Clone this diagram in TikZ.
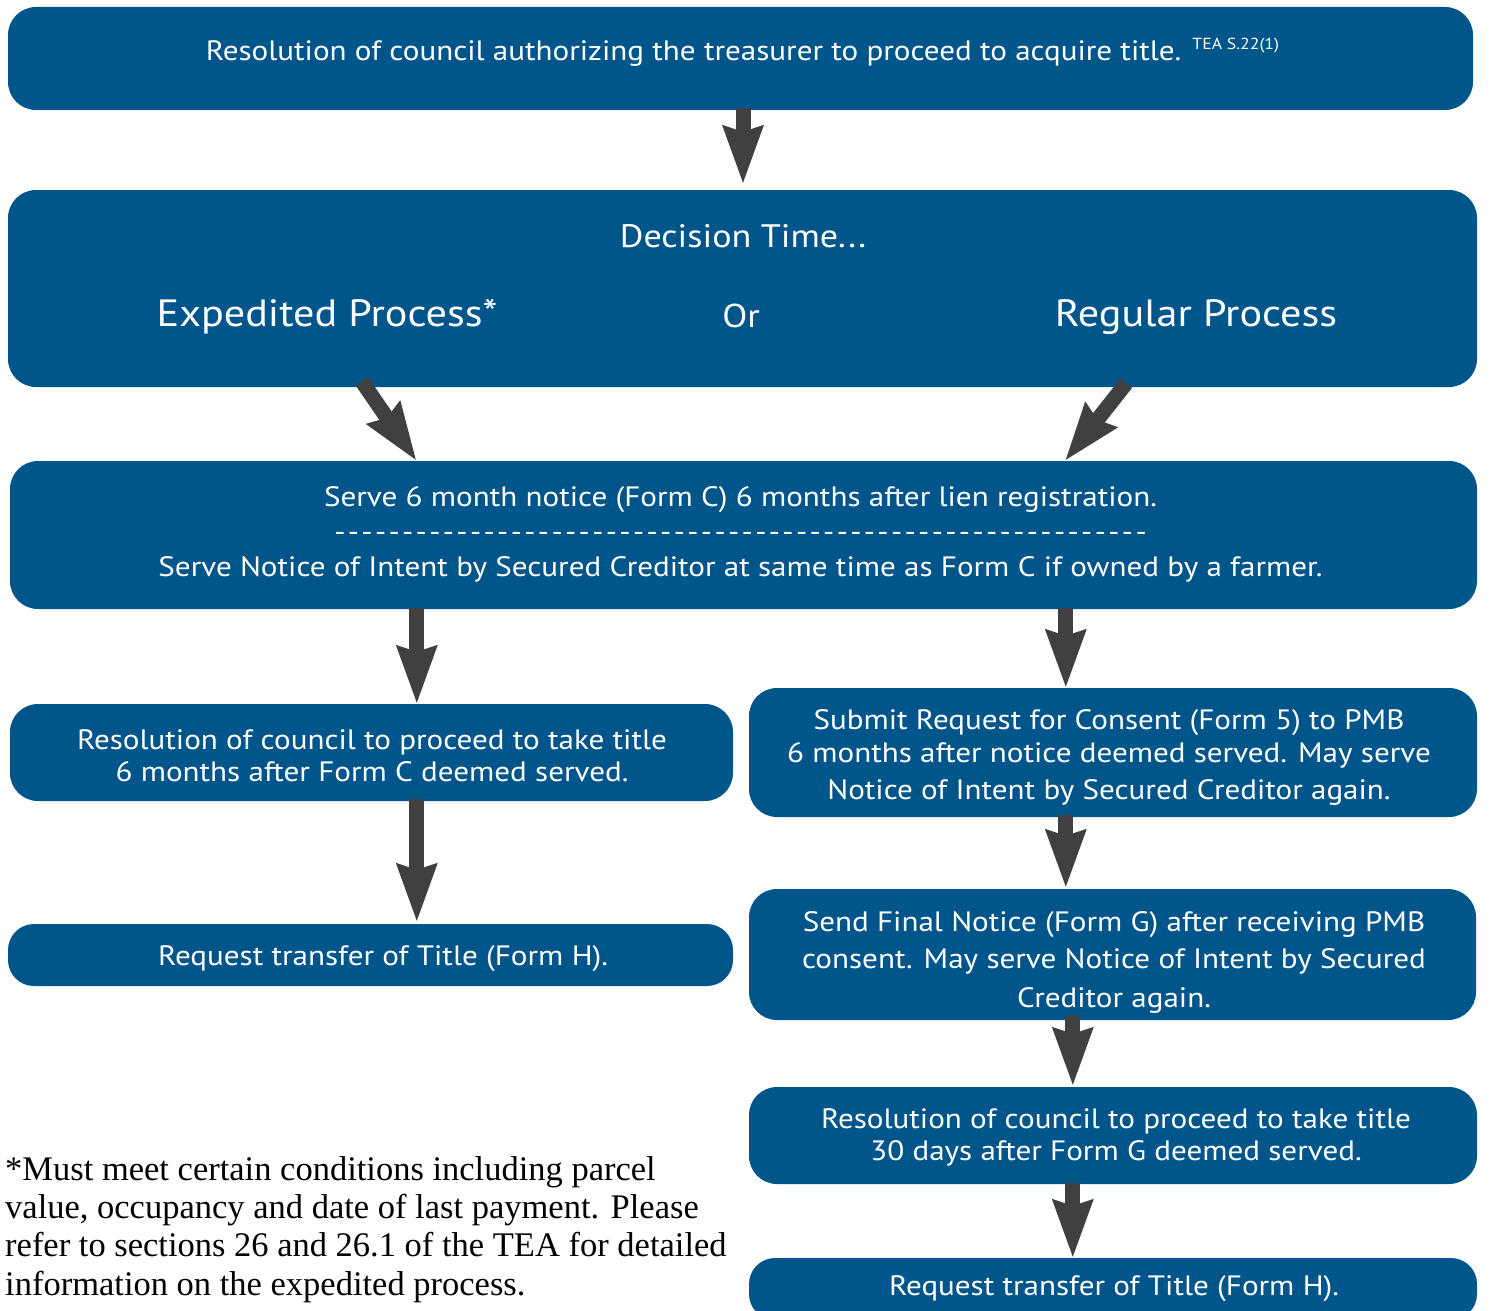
\documentclass[tikz,border=0pt]{standalone}
\usepackage{fontspec}
\newfontfamily\boxfont[FakeStretch=1.11]{PT Sans}
\newfontfamily\notefont{Liberation Serif}
\usetikzlibrary{arrows.meta}
\definecolor{boxblue}{RGB}{0,86,139}
\definecolor{arrowgray}{RGB}{64,64,66}
\tikzset{
  box/.style={fill=boxblue, draw=none, rounded corners=28pt, inner sep=0pt},
  txt/.style={text=white, inner sep=0pt, align=center, anchor=base, font=\boxfont\fontsize{28}{35}\selectfont},
  bigarrow/.style={draw=arrowgray, line width=15pt, -{Stealth[length=58pt,width=42pt,inset=7pt,line width=0pt]}},
}
\begin{document}
\begin{tikzpicture}[x=1pt,y=-1pt]
\useasboundingbox (0,0) rectangle (1493,1311);
\clip (0,0) rectangle (1493,1311);
% boxes
\node[box, minimum width=1465pt, minimum height=103pt] (b1) at (740.5,58.5) {};
\node[box, minimum width=1469pt, minimum height=197pt] (b2) at (742.5,288.5) {};
\node[box, minimum width=1467pt, minimum height=148pt] (b3) at (743.5,535) {};
\node[box, minimum width=723pt, minimum height=97pt] (b4) at (371.5,752.5) {};
\node[box, minimum width=728pt, minimum height=129pt] (b5) at (1113,752.5) {};
\node[box, minimum width=725pt, minimum height=62pt, rounded corners=26pt] (b6) at (370.5,955) {};
\node[box, minimum width=727pt, minimum height=131pt] (b7) at (1112.5,954.5) {};
\node[box, minimum width=728pt, minimum height=97pt] (b8) at (1113,1135.5) {};
\node[box, minimum width=728pt, minimum height=62pt, rounded corners=26pt] (b9) at (1113,1289) {};
% texts (base anchor = baseline of last line)
\node[txt] (t1) at (742.5,61) {Resolution of council authorizing the treasurer to proceed to acquire title. {\fontsize{16}{19}\selectfont\raisebox{11pt}{TEA S.22(1)}}};
\node[txt, font=\boxfont\fontsize{32.5}{38}\selectfont] (t2) at (743,247) {Decision Time...};
\node[txt, font=\boxfont\fontsize{38}{44}\selectfont] (t2l) at (327,326) {Expedited Process*};
\node[txt, font=\boxfont\fontsize{33}{38}\selectfont] (t2m) at (741,327) {Or};
\node[txt, font=\boxfont\fontsize{38}{44}\selectfont] (t2r) at (1196,326) {Regular Process};
\node[txt] (t3) at (740.5,576) {Serve 6 month notice (Form C) 6 months after lien registration.\\
\makebox[815pt]{\xleaders\hbox to 13.4pt{\hss-\hss}\hfill}\\
Serve Notice of Intent by Secured Creditor at same time as Form C if owned by a farmer.};
\node[txt, font=\boxfont\fontsize{28}{32}\selectfont] (t4) at (372,781) {Resolution of council to proceed to take title\\6 months after Form C deemed served.};
\node[txt, font=\boxfont\fontsize{28}{33}\selectfont] (t5) at (1109,799) {Submit Request for Consent (Form 5) to PMB\\6 months after notice deemed served. May serve\\[4pt]Notice of Intent by Secured Creditor again.};
\node[txt] (t6) at (383,965) {Request transfer of Title (Form H).};
\node[txt, font=\boxfont\fontsize{28}{37}\selectfont] (t7) at (1114,1007) {Send Final Notice (Form G) after receiving PMB\\consent. May serve Notice of Intent by Secured\\[2pt]Creditor again.};
\node[txt, font=\boxfont\fontsize{28}{32}\selectfont] (t8) at (1116,1160) {Resolution of council to proceed to take title\\30 days after Form G deemed served.};
\node[txt] (t9) at (1114,1295) {Request transfer of Title (Form H).};
% footnote
\node[inner sep=0pt, align=left, anchor=base west, font=\notefont\fontsize{34.5}{38.3}\selectfont] (note) at (5,1295) {*Must meet certain conditions including parcel\\value, occupancy and date of last payment. Please\\refer to sections 26 and 26.1 of the TEA for detailed\\information on the expedited process.};
% arrows
\draw[bigarrow] ([shift={(2.5pt,2pt)}]b1.south) -- ([shift={(0.5pt,7pt)}]b2.north);
\draw[bigarrow] ([shift={(354pt,6pt)}]b2.south west) -- ([shift={(406pt,1pt)}]b3.north west);
\draw[bigarrow] ([shift={(-351pt,4pt)}]b2.south east) -- ([shift={(1056pt,1pt)}]b3.north west);
\draw[bigarrow] ([shift={(407pt,1pt)}]b3.south west) -- ([shift={(407pt,1pt)}]b4.north west);
\draw[bigarrow] ([shift={(1056pt,1pt)}]b3.south west) -- ([shift={(317pt,1pt)}]b5.north west);
\draw[bigarrow] ([shift={(407pt,2pt)}]b4.south west) -- ([shift={(409pt,3pt)}]b6.north west);
\draw[bigarrow] ([shift={(317pt,2pt)}]b5.south west) -- ([shift={(317pt,2pt)}]b7.north west);
\draw[bigarrow] ([shift={(324pt,5pt)}]b7.south west) -- ([shift={(324pt,2pt)}]b8.north west);
\draw[bigarrow] ([shift={(324pt,1pt)}]b8.south west) -- ([shift={(324pt,1pt)}]b9.north west);
\end{tikzpicture}
\end{document}
